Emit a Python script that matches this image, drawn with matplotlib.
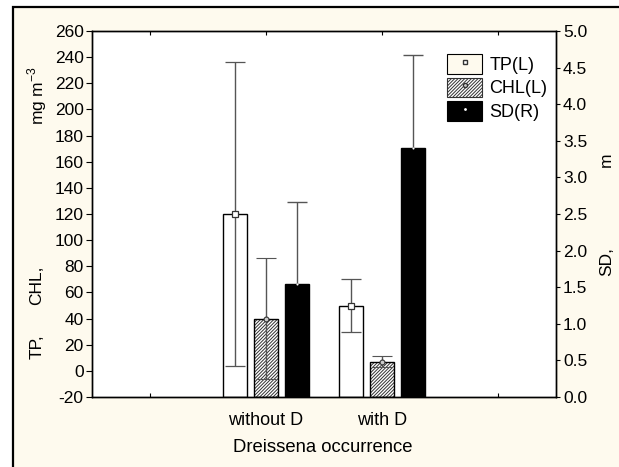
import matplotlib
matplotlib.use("Agg")
import matplotlib.pyplot as plt
from matplotlib.patches import Patch, Rectangle
from matplotlib.lines import Line2D
import numpy as np

plt.rcParams['font.family'] = ['Liberation Sans', 'DejaVu Sans']
plt.rcParams['hatch.color'] = '#333333'
plt.rcParams['hatch.linewidth'] = 0.7

categories = ["without D", "with D"]
tp_mean = [120, 50]
tp_err = [116, 20.5]
chl_mean = [40, 7]
chl_err = [46, 4]
sd_mean = [1.55, 3.40]
sd_err = [1.11, 1.27]
left_ticks = list(range(-20, 261, 20))
right_ticks = [0.0, 0.5, 1.0, 1.5, 2.0, 2.5, 3.0, 3.5, 4.0, 4.5, 5.0]
series_labels = ["TP(L)", "CHL(L)", "SD(R)"]

W, H = 619, 467
FS = 12.5
cream = '#fefaee'
fig = plt.figure(figsize=(W/100, H/100), dpi=100)
fig.patch.set_facecolor('white')
fig.patches.append(Rectangle((13/W, -0.1), 1.2, 1.1 - 6.5/H, transform=fig.transFigure,
                             facecolor=cream, edgecolor='black', linewidth=1.6, zorder=-10))

ax = fig.add_axes([92/W, 1-397/H, 464/W, 366/H])
ax.set_facecolor('white')
ax2 = ax.twinx()

x = np.array([1.5, 2.5])
slot = 0.267
bw = 0.215
ecol = '#555555'
ekw = dict(ecolor=ecol, elinewidth=1.0, capsize=7.5, capthick=1.0, linestyle='none')
base = -20

# TP
ax.bar(x - slot, np.array(tp_mean) - base, bottom=base, width=bw, color='white',
       edgecolor='black', linewidth=1.0, zorder=2)
ax.errorbar(x - slot, tp_mean, yerr=tp_err, marker='s', markersize=4, markerfacecolor='white',
            markeredgecolor='#333333', markeredgewidth=0.9, zorder=3, **ekw)
# CHL
ax.bar(x, np.array(chl_mean) - base, bottom=base, width=bw, color='white', edgecolor='#333333',
       hatch='//////////', linewidth=0, zorder=2)
ax.bar(x, np.array(chl_mean) - base, bottom=base, width=bw, fill=False, edgecolor='black',
       linewidth=1.0, zorder=2)
ax.errorbar(x, chl_mean, yerr=chl_err, marker='o', markersize=3.5, markerfacecolor='#cccccc',
            markeredgecolor='#333333', markeredgewidth=0.8, zorder=3, **ekw)
# SD
ax2.errorbar(x + slot, sd_mean, yerr=sd_err, zorder=1, **ekw)
ax2.bar(x + slot, sd_mean, width=bw, color='black', edgecolor='black', linewidth=1.0, zorder=2)
ax2.plot(x + slot, sd_mean, marker='o', markersize=1.5, markerfacecolor='white',
         markeredgecolor='white', markeredgewidth=0, linestyle='none', zorder=3)

ax.set_xlim(0, 4)
ax.set_ylim(-20, 260)
ax2.set_ylim(0, 5)
ax.set_yticks(left_ticks)
ax.set_yticklabels([str(v) for v in left_ticks])
ax2.set_yticks(right_ticks)
ax2.set_yticklabels([f"{v:.1f}" for v in right_ticks])

ax.set_xticks([0.5, 1.5, 2.5, 3.5])
ax.set_xticklabels(["", categories[0], categories[1], ""])
ax.tick_params(axis='x', direction='in', length=3, top=True, bottom=True, labelsize=13, pad=11, width=0.8)
ax.tick_params(axis='y', direction='out', length=4, labelsize=FS, pad=2, width=0.8)
ax2.tick_params(axis='y', direction='out', length=3, labelsize=FS, pad=2, width=0.8)
for a in (ax, ax2):
    for s in a.spines.values():
        s.set_linewidth(1.0)
        s.set_color('black')

fig.text(323/W, 1-448/H, "Dreissena occurrence", ha='center', va='center', fontsize=13.3)
fig.text(37/W, 1-347/H, "TP,", rotation=90, ha='center', va='center', fontsize=FS)
fig.text(37/W, 1-285/H, "CHL,", rotation=90, ha='center', va='center', fontsize=FS)
fig.text(37/W, 1-96/H, r"mg m$^{\mathregular{-3}}$", rotation=90, ha='center', va='center', fontsize=FS)
fig.text(607/W, 1-262/H, "SD,", rotation=90, ha='center', va='center', fontsize=FS)
fig.text(606/W, 1-160/H, "m", rotation=90, ha='center', va='center', fontsize=FS)

h_tp = (Patch(facecolor=cream, edgecolor='black', linewidth=0.8),
        Line2D([], [], marker='s', markersize=3.5, markerfacecolor='white', markeredgecolor='#333333', linestyle='none'))
h_chl = (Patch(facecolor='white', edgecolor='#333333', hatch='//////////', linewidth=0.8),
         Line2D([], [], marker='o', markersize=3, markerfacecolor='#cccccc', markeredgecolor='#333333', linestyle='none'))
h_sd = (Patch(facecolor='black', edgecolor='black', linewidth=0.8),
        Line2D([], [], marker='o', markersize=1, markerfacecolor='white', markeredgecolor='white', linestyle='none'))
leg = ax2.legend([h_tp, h_chl, h_sd], series_labels, loc='upper left',
                 bbox_to_anchor=(447/W, 1-54/H), bbox_transform=fig.transFigure,
                 frameon=False, borderpad=0, borderaxespad=0, fontsize=13,
                 handlelength=1.95, handleheight=1.3, labelspacing=0.2, handletextpad=0.4)

fig.savefig("out.png", dpi=100, facecolor=fig.get_facecolor())
